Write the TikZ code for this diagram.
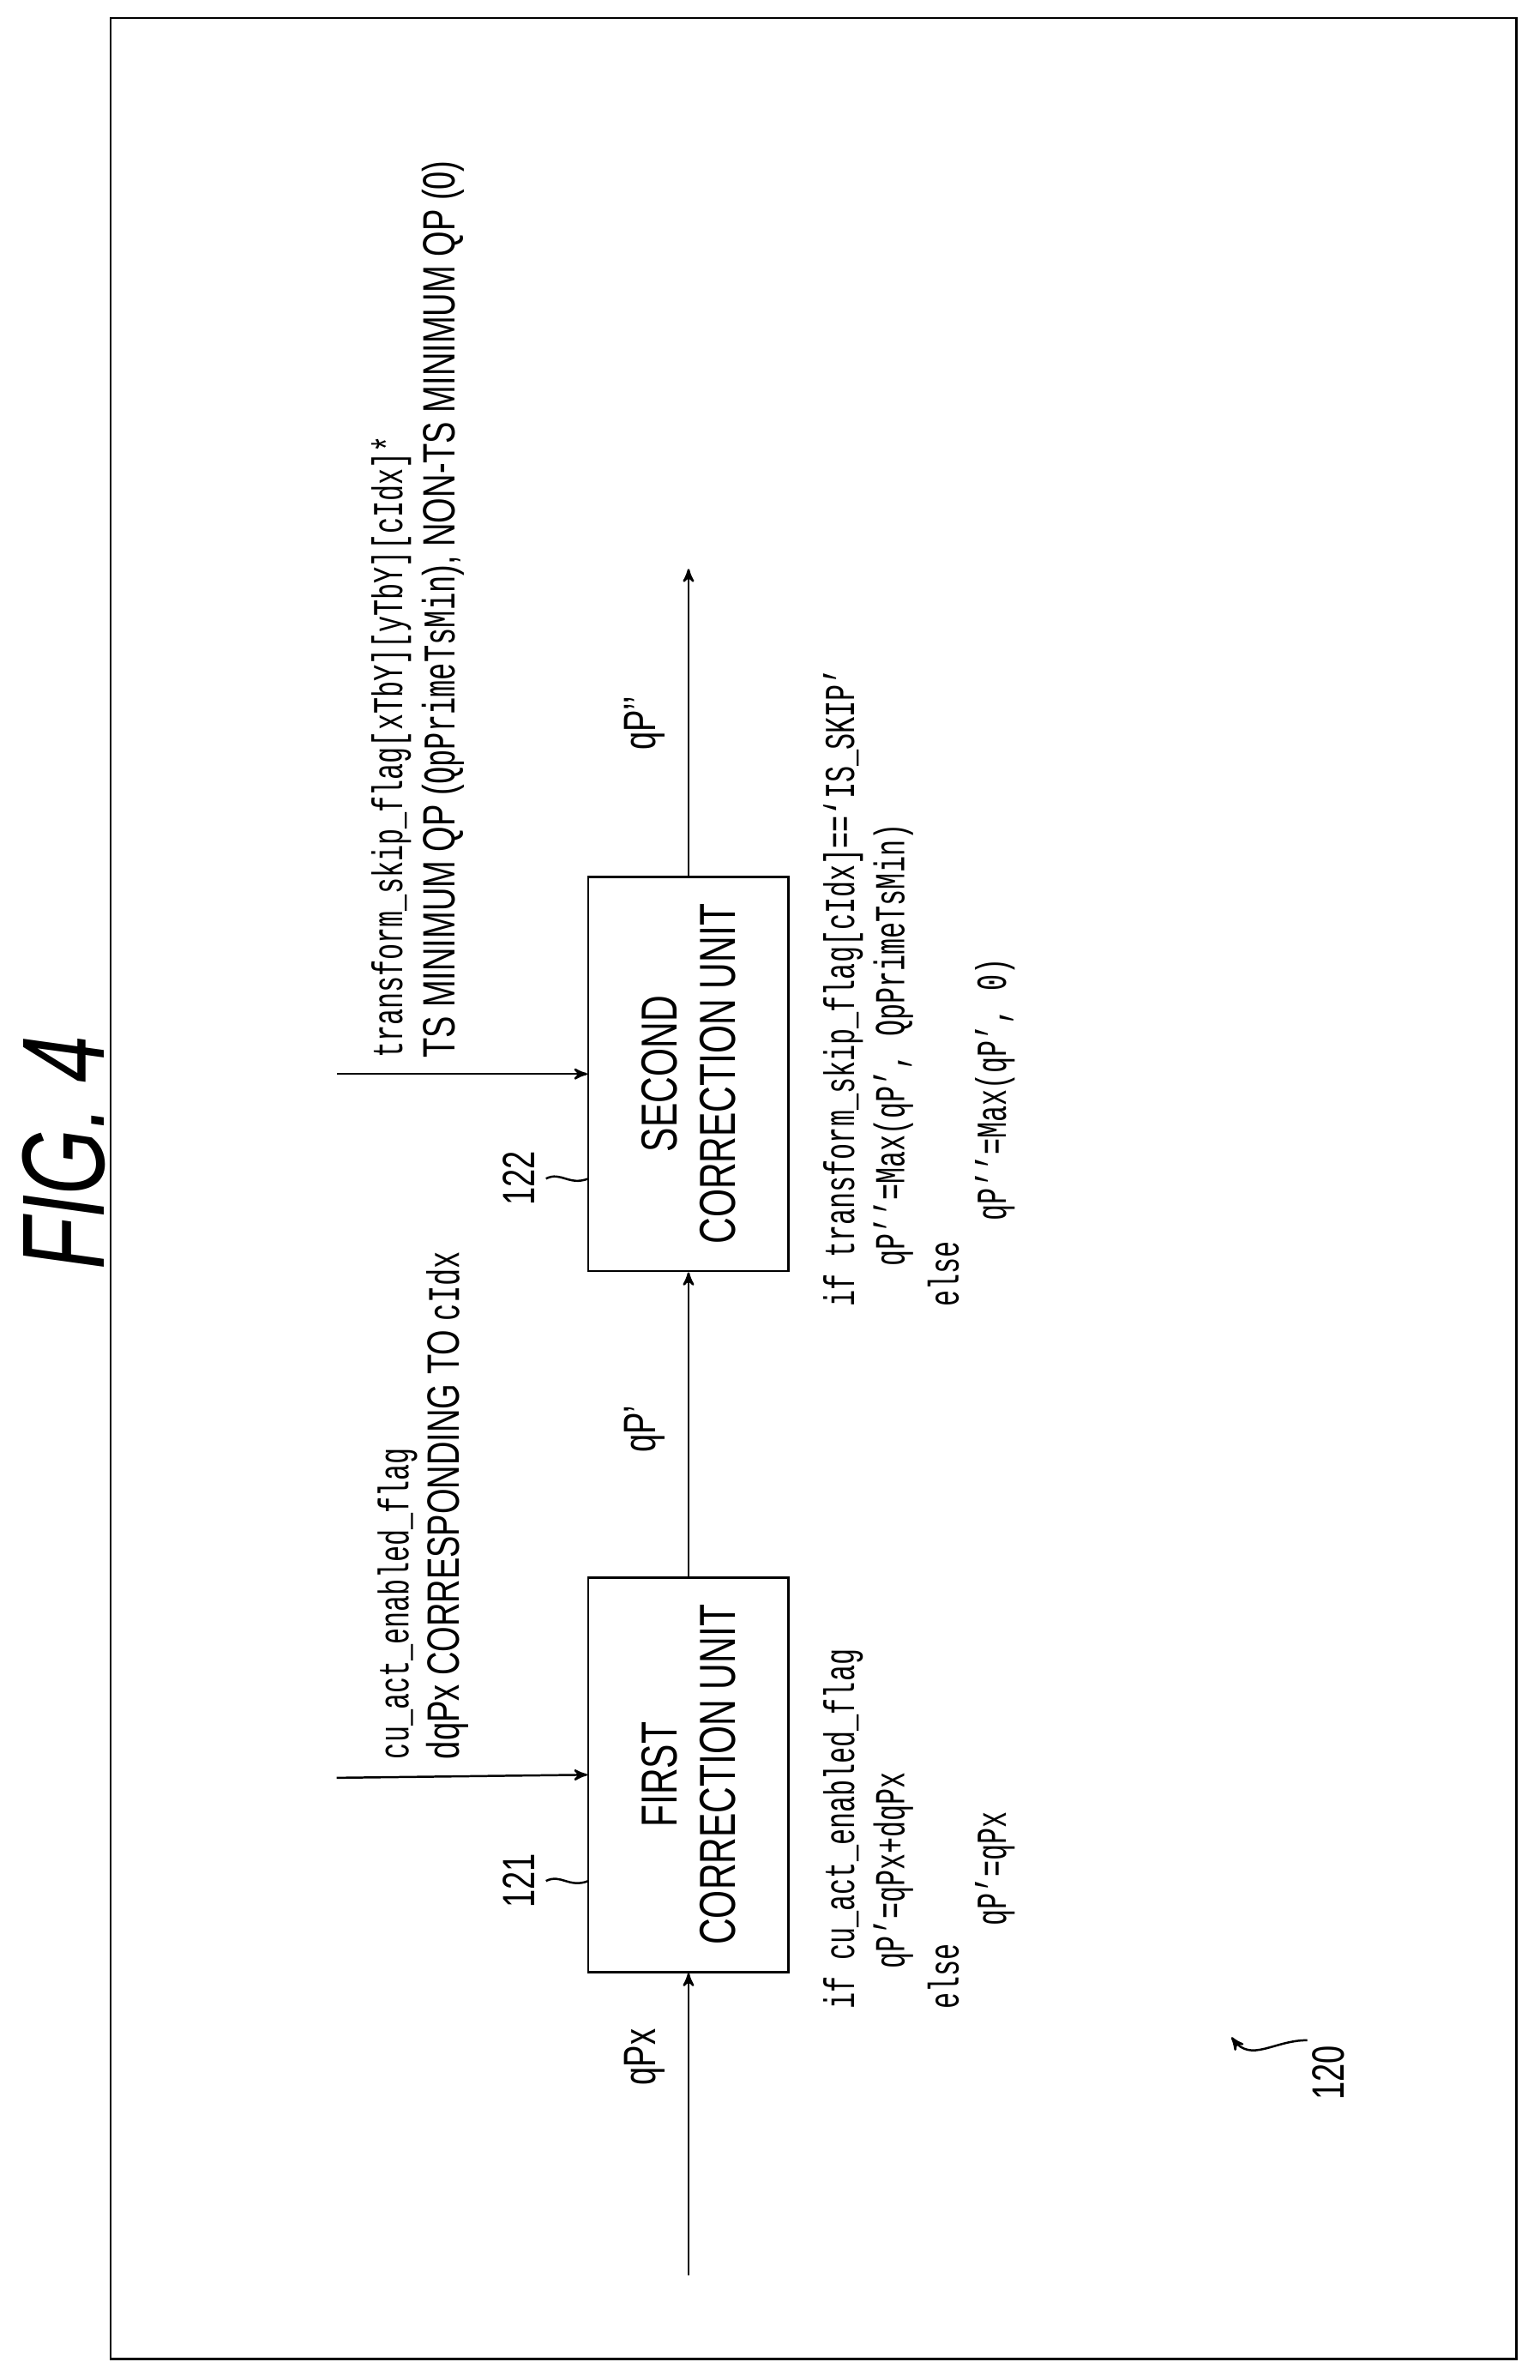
\documentclass[tikz,border=0pt]{standalone}
\usepackage{fontspec}
\setsansfont[FakeStretch=0.72]{Liberation Sans}
\setmonofont[FakeStretch=0.64]{Liberation Mono}
\usetikzlibrary{arrows}
\tikzset{block/.style={rectangle, draw, thick, minimum width=260*0.2mm, minimum height=132*0.2mm, align=center, rotate=90, font=\sffamily\fontsize{19}{22}\selectfont},
  line/.style={draw, thick, ->, >=stealth'},
  code/.style={anchor=west, rotate=90, inner sep=0pt, font=\ttfamily\fontsize{16}{18}\selectfont},
  txt/.style={anchor=west, rotate=90, inner sep=0pt, font=\sffamily\fontsize{17}{19}\selectfont}}

\begin{document}
\begin{tikzpicture}[x=0.2mm,y=-0.2mm]
\useasboundingbox (0,0) rectangle (1015,1569);
\draw[thick] (73,12) rectangle (1000,1555);
\node[rotate=90, font=\sffamily\itshape\fontsize{44}{48}\selectfont] (fig) at (42,760) {FIG. 4};

\node [block] (u1) at (454,1170) {FIRST\\CORRECTION UNIT};
\node [block] (u2) at (454,708) {SECOND\\CORRECTION UNIT};

\coordinate (in) at (454,1500);
\coordinate (out) at (454,375);
\coordinate (s1) at (222,1172);
\coordinate (s2) at (222,708);
\path [line] (in) -- (u1);
\path [line] (u1) -- (u2);
\path [line] (u2) -- (out);
\path [line] (s1) -- (u1.north);
\path [line] (s2) -- (u2.north);

\node[txt] (l1) at (425,1375) {qPx};
\node[txt] (l2) at (425,958) {qP’};
\node[txt] (l3) at (425,495) {qP’’};

\node[code] (a1) at (262,1160) {cu\_act\_enabled\_flag};
\node[txt] (a2) at (295,1160) {dqPx CORRESPONDING TO {\ttfamily cIdx}};
\node[code] (b1) at (258,698) {transform\_skip\_flag[xTbY][yTbY][cIdx]*};
\node[txt] (b2) at (292,698) {TS MINIMUM QP ({\ttfamily QpPrimeTsMin}), NON-TS MINIMUM QP (0)};

\node[code] (c1) at (556,1325) {if cu\_act\_enabled\_flag};
\node[code] (c2) at (589,1298) {qP’=qPx+dqPx};
\node[code] (c3) at (622,1325) {else};
\node[code] (c4) at (656,1270) {qP’=qPx};

\node[code] (d1) at (556,862) {if transform\_skip\_flag[cIdx]==‘IS\_SKIP’};
\node[code] (d2) at (589,835) {qP’’=Max(qP’, QpPrimeTsMin)};
\node[code] (d3) at (622,862) {else};
\node[code] (d4) at (656,805) {qP’’=Max(qP’, 0)};

\node[txt] (n1) at (342,1258) {121};
\node[txt] (n2) at (342,795) {122};
\node[txt] (n3) at (876,1385) {120};
\draw[thick] (388,1240) .. controls (375,1245) and (370,1235) .. (360,1240);
\draw[thick] (388,777) .. controls (375,782) and (370,772) .. (360,777);
\draw[thick, ->, >=stealth'] (862,1345) .. controls (840,1345) and (825,1360) .. (812,1343);
\end{tikzpicture}
\end{document}
